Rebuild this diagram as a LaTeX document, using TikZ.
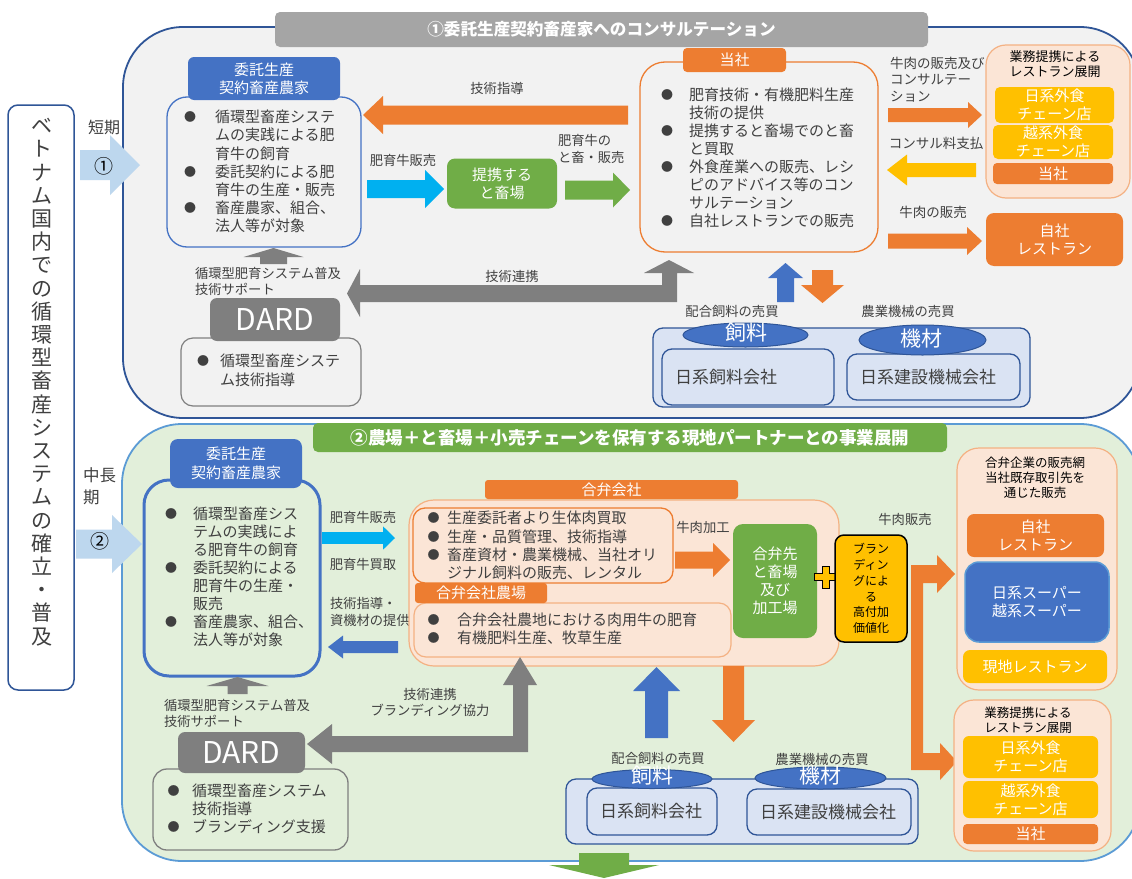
\documentclass[tikz,border=0pt]{standalone}
\usepackage{fontspec}
\setmainfont{Noto Sans CJK JP}
\usetikzlibrary{shapes.geometric}
\definecolor{cdblue}{HTML}{2F5597}
\definecolor{cblue}{HTML}{4472C4}
\definecolor{cbluelt}{HTML}{5B9BD5}
\definecolor{clblue}{HTML}{BDD7EE}
\definecolor{ccyan}{HTML}{00B0F0}
\definecolor{cgreen}{HTML}{70AD47}
\definecolor{corange}{HTML}{ED7D31}
\definecolor{clorange}{HTML}{FBE5D6}
\definecolor{corange2}{HTML}{F4B183}
\definecolor{cyellow}{HTML}{FFC000}
\definecolor{cgray}{HTML}{7F7F7F}
\definecolor{ctitle}{HTML}{A5A5A5}
\definecolor{cbg}{HTML}{F2F2F2}
\definecolor{cgbg}{HTML}{E2EFDA}
\definecolor{csup}{HTML}{DAE3F3}
\definecolor{ctxt}{HTML}{404040}
\newcommand{\fs}[2]{\fontsize{#1}{#2}\selectfont}
\newcommand{\fr}{\rule{0pt}{0.95em}}
\newcommand{\bu}[1]{\makebox[#1][l]{\raisebox{1pt}{\fontsize{12}{12}\selectfont ●}}}
\newcommand{\ind}[1]{\hspace*{#1}}
% color, tail, tip, center, shaft half width, head half width, head length
\newcommand{\rarrow}[7]{\fill[#1] (#2,#4-#5) -- (#3-#7,#4-#5) -- (#3-#7,#4-#6) -- (#3,#4) -- (#3-#7,#4+#6) -- (#3-#7,#4+#5) -- (#2,#4+#5) -- cycle;}
\newcommand{\larrow}[7]{\fill[#1] (#2,#4-#5) -- (#3+#7,#4-#5) -- (#3+#7,#4-#6) -- (#3,#4) -- (#3+#7,#4+#6) -- (#3+#7,#4+#5) -- (#2,#4+#5) -- cycle;}
\newcommand{\uarrow}[7]{\fill[#1] (#4-#5,#2) -- (#4-#5,#3+#7) -- (#4-#6,#3+#7) -- (#4,#3) -- (#4+#6,#3+#7) -- (#4+#5,#3+#7) -- (#4+#5,#2) -- cycle;}
\newcommand{\darrow}[7]{\fill[#1] (#4-#5,#2) -- (#4-#5,#3-#7) -- (#4-#6,#3-#7) -- (#4,#3) -- (#4+#6,#3-#7) -- (#4+#5,#3-#7) -- (#4+#5,#2) -- cycle;}
\begin{document}
\begin{tikzpicture}[x=1pt,y=-1pt,
  txt/.style={inner sep=0pt,outer sep=0pt,text=ctxt,align=left,anchor=north west},
  lbl/.style={inner sep=0pt,outer sep=0pt,text=ctxt,font=\fs{13.3}{16},align=center},
  wbox/.style={inner sep=0pt,outer sep=0pt,text=white,align=center,font=\fs{15}{18}},
  obox/.style={wbox,fill=corange,rounded corners=#1},
  ybox/.style={wbox,fill=cyellow,rounded corners=#1},
  panel/.style={draw=corange2,line width=1.2pt,fill=clorange,rounded corners=#1,inner sep=0pt},
  supbox/.style={draw=cdblue,line width=1.3pt,fill=csup,rounded corners=10pt,inner sep=0pt},
  ell/.style={ellipse,draw=cdblue,line width=1pt,fill=cblue,inner sep=0pt},
  dard/.style={fill=cgray,rounded corners=7pt,text=white,font=\fs{30}{32},inner sep=0pt},
  suptxt/.style={inner sep=0pt,text=ctxt,font=\fs{17}{20}},
  elltxt/.style={inner sep=0pt,text=white,font=\fs{21}{24}}
]
\useasboundingbox (0,0) rectangle (1132,878);
\fill[white] (0,0) rectangle (1132,878);

% ---------- containers ----------
\draw[cdblue,line width=1.8pt,fill=cbg,rounded corners=60pt] (123,27) rectangle (1140,418);
\draw[cbluelt,line width=1.8pt,fill=cgbg,rounded corners=60pt] (122,424) rectangle (1140,861);

% ---------- left vertical label ----------
\node[draw=cdblue,line width=1.5pt,fill=white,rounded corners=10pt,minimum width=66pt,minimum height=585pt,inner sep=0pt] (vbox) at (41,397.5) {};
\node[inner sep=0pt,text=ctxt,align=center,font=\fs{21}{23.2}] (vtext) at (42,382)
 {ベ\\ト\\ナ\\ム\\国\\内\\で\\の\\循\\環\\型\\畜\\産\\シ\\ス\\テ\\ム\\の\\確\\立\\・\\普\\及};

% ---------- phase arrows ----------
\rarrow{clblue}{80}{140}{165}{15}{30}{30}
\node[lbl,font=\fs{16}{20}] (tanki) at (104,127) {短期};
\node[lbl,text=black,font=\fs{19}{22}] (num1) at (104,166) {①};
\rarrow{clblue}{76}{142}{544}{14.5}{29}{30}
\node[txt,font=\fs{16.5}{22}] (chuki) at (83,465.6) {\fr 中長\\期};
\node[lbl,text=black,font=\fs{19}{22}] (num2) at (100,541) {②};

% ---------- titles ----------
\node[fill=ctitle,rounded corners=5pt,minimum width=653pt,minimum height=35pt,text=white,font=\bfseries\fs{16.6}{20},inner sep=0pt] (title1) at (601.5,29.5) {①委託生産契約畜産家へのコンサルテーション};
\node[fill=cgreen,rounded corners=5pt,minimum width=634pt,minimum height=29pt,text=white,font=\bfseries\fs{17.5}{20},inner sep=0pt] (title2) at (630,437.5) {②農場＋と畜場＋小売チェーンを保有する現地パートナーとの事業展開};

% ================= TOP SECTION =================
\node[draw=cblue,line width=1.3pt,fill=cbg,rounded corners=20pt,minimum width=194pt,minimum height=150pt,inner sep=0pt] (farm1) at (264,172) {};
\node[wbox,fill=cblue,rounded corners=6pt,minimum width=152pt,minimum height=43pt] (farmh1) at (264,78.5) {委託生産\\契約畜産農家};
\node[txt,font=\fs{15}{18.2}] (farmt1) at (184,108.5) {\fr\bu{31pt}循環型畜産システ\\\ind{31pt}ムの実践による肥\\\ind{31pt}育牛の飼育\\\bu{31pt}委託契約による肥\\\ind{31pt}育牛の生産・販売\\\bu{31pt}畜産農家、組合、\\\ind{31pt}法人等が対象};

% tech guidance arrow
\larrow{corange}{628}{363}{115}{9.5}{19}{20}
\node[lbl] (lguide) at (497,88) {技術指導};

% sale arrow + slaughterhouse
\rarrow{ccyan}{367}{444}{189}{9}{19}{19}
\node[lbl] (lsale1) at (403,160) {肥育牛販売};
\node[wbox,fill=cgreen,rounded corners=8pt,minimum width=110pt,minimum height=50pt] (tochiku) at (502,183.5) {提携する\\と畜場};
\rarrow{cgreen}{565}{630}{190}{9.5}{17.5}{17}
\node[txt,font=\fs{13.3}{17}] (lslaught) at (558,132.5) {\fr 肥育牛の\\と畜・販売};

% tosha box
\node[draw=corange,line width=1.3pt,fill=cbg,rounded corners=25pt,minimum width=238pt,minimum height=190pt,inner sep=0pt] (tosha1) at (759,157) {};
\node[obox=4pt,minimum width=103pt,minimum height=24pt] (toshah1) at (734.5,60) {当社};
\node[txt,font=\fs{15}{17.9}] (toshat1) at (661,86.5) {\fr\bu{28pt}肥育技術・有機肥料生産\\\ind{28pt}技術の提供\\\bu{28pt}提携すると畜場でのと畜\\\ind{28pt}と買取\\\bu{28pt}外食産業への販売、レシ\\\ind{28pt}ピのアドバイス等のコン\\\ind{28pt}サルテーション\\\bu{28pt}自社レストランでの販売};

% right side
\node[txt,font=\fs{13.5}{16.5}] (lconsult) at (890,55.3) {\fr 牛肉の販売及び\\コンサルテー\\ション};
\rarrow{corange}{888}{982}{115}{7}{13}{14}
\node[lbl,font=\fs{13.5}{16}] (lfee) at (936,143) {コンサル料支払};
\larrow{cyellow}{976}{887}{170}{7}{15.5}{20}

\node[panel=20pt,minimum width=144pt,minimum height=153pt] (rest1) at (1058,121.5) {};
\node[lbl,text=black,font=\fs{13}{15}] (rest1t) at (1055,64.5) {業務提携による\\レストラン展開};
\node[ybox=5pt,minimum width=119pt,minimum height=36pt] (jchain1) at (1054.5,105) {日系外食\\チェーン店};
\node[ybox=5pt,minimum width=120pt,minimum height=34pt] (vchain1) at (1053,142) {越系外食\\チェーン店};
\node[obox=4pt,minimum width=120pt,minimum height=21pt] (tosha1b) at (1053,173.5) {当社};

\node[lbl,font=\fs{13.5}{16}] (lbeef1) at (933,212) {牛肉の販売};
\rarrow{corange}{888}{982}{241}{7.5}{14}{15}
\node[obox=8pt,minimum width=137pt,minimum height=53pt] (ownrest1) at (1054.5,239.5) {自社\\レストラン};

% gray L arrow (tech cooperation)
\fill[cgray] (669,260) -- (694,273) -- (677,273) -- (677,302) -- (360,302) -- (360,317) -- (347,293.5) -- (360,269) -- (360,285) -- (662,285) -- (662,273) -- (644,273) -- cycle;
\node[lbl] (lcoop1) at (512,276) {技術連携};

% DARD top
\node[txt,font=\fs{13.3}{16}] (lsupport1) at (195,265.5) {\fr 循環型肥育システム普及\\技術サポート};
\uarrow{cgray}{264}{248}{273.5}{13.5}{30}{9}
\node[draw=cgray,line width=1.2pt,fill=cbg,rounded corners=12pt,minimum width=180pt,minimum height=68pt,inner sep=0pt] (dardd1) at (271,372) {};
\node[dard,minimum width=130pt,minimum height=43pt] (dard1) at (275,319.5) {DARD};
\node[txt,font=\fs{15}{19}] (dardt1) at (197,352.5) {\fr\bu{23pt}循環型畜産システ\\\ind{23pt}ム技術指導};

% feed / machinery top
\uarrow{cblue}{302}{263}{785.5}{8.5}{17.5}{15}
\darrow{corange}{270}{303}{822.5}{10.5}{21.5}{18}
\node[lbl] (lfeed1) at (732,311) {配合飼料の売買};
\node[lbl] (lmach1) at (908,311) {農業機械の売買};
\node[supbox,minimum width=377pt,minimum height=79pt] (sup1) at (841.5,367.5) {};
\node[supbox,minimum width=172pt,minimum height=56pt] (feedco1) at (748,377) {};
\node[suptxt] (feedco1t) at (726,377) {日系飼料会社};
\node[supbox,minimum width=173pt,minimum height=46pt] (machco1) at (933.5,377) {};
\node[suptxt] (machco1t) at (928,377) {日系建設機械会社};
\node[ell,minimum width=125pt,minimum height=24pt] (feedell1) at (745.5,335) {};
\node[elltxt] (feedell1t) at (746,333) {飼料};
\node[ell,minimum width=127pt,minimum height=30pt] (machell1) at (922.5,340) {};
\node[elltxt] (machell1t) at (921,339) {機材};

% ================= BOTTOM SECTION =================
\node[draw=cblue,line width=3pt,fill=cgbg,rounded corners=25pt,minimum width=176pt,minimum height=196pt,inner sep=0pt] (farm2) at (232,578) {};
\node[wbox,fill=cblue,rounded corners=8pt,minimum width=132pt,minimum height=49pt,font=\fs{15}{19}] (farmh2) at (236,463.5) {委託生産\\契約畜産農家};
\node[txt,font=\fs{15}{18}] (farmt2) at (165,505.5) {\fr\bu{28pt}循環型畜産シス\\\ind{28pt}テムの実践によ\\\ind{28pt}る肥育牛の飼育\\\bu{28pt}委託契約による\\\ind{28pt}肥育牛の生産・\\\ind{28pt}販売\\\bu{28pt}畜産農家、組合、\\\ind{28pt}法人等が対象};

\rarrow{ccyan}{322}{395}{538}{5.8}{11.7}{12}
\node[lbl] (lsale2) at (363,517) {肥育牛販売};
\node[lbl] (lbuy2) at (363,564) {肥育牛買取};
\node[txt,font=\fs{13.3}{17}] (lguide2) at (330,595.6) {\fr 技術指導・\\資機材の提供};
\larrow{cblue}{398}{328}{647}{6}{11.5}{15}

% joint venture
\node[panel=25pt,minimum width=430pt,minimum height=166pt] (jv) at (624,583) {};
\node[obox=3pt,minimum width=253pt,minimum height=19pt] (jvh) at (611.5,489.5) {合弁会社};
\node[draw=corange,line width=1.3pt,fill=clorange,rounded corners=12pt,minimum width=260pt,minimum height=75pt,inner sep=0pt] (jv1) at (543,545.5) {};
\node[txt,font=\fs{15}{18.3}] (jv1t) at (427.5,509.5) {\fr\bu{19.5pt}生産委託者より生体肉買取\\\bu{19.5pt}生産・品質管理、技術指導\\\bu{19.5pt}畜産資材・農業機械、当社オリ\\\ind{19.5pt}ジナル飼料の販売、レンタル};
\node[panel=12pt,minimum width=317pt,minimum height=54pt] (jv2) at (572.5,630) {};
\node[obox=3pt,minimum width=132pt,minimum height=20pt] (jv2h) at (481,593) {合弁会社農場};
\node[txt,font=\fs{15}{18}] (jv2t) at (427.5,611.5) {\fr\bu{29.5pt}合弁会社農地における肉用牛の肥育\\\bu{29.5pt}有機肥料生産、牧草生産};

\node[lbl] (lproc) at (703,527) {牛肉加工};
\rarrow{corange}{675}{730}{560}{8.5}{17}{17}
\node[wbox,fill=cgreen,rounded corners=10pt,minimum width=84pt,minimum height=114pt] (jvslaught) at (775,581) {合弁先\\と畜場\\及び\\加工場};

% plus sign
\draw[black,line width=0.9pt,fill=cyellow] (822.5,566) -- (829.5,566) -- (829.5,573.5) -- (838,573.5) -- (838,580.5) -- (829.5,580.5) -- (829.5,588) -- (822.5,588) -- (822.5,580.5) -- (814,580.5) -- (814,573.5) -- (822.5,573.5) -- cycle;
\node[draw=black,line width=1.5pt,fill=cyellow,rounded corners=9pt,minimum width=72pt,minimum height=107pt,inner sep=0pt,align=center,font=\fs{12}{15.8},text=black] (brand) at (871,588.5) {ブラン\\ディン\\グによ\\る\\高付加\\価値化};

\node[lbl] (lbeef2) at (905,519) {牛肉販売};
\fill[corange] (911,565) -- (937,565) -- (937,555) -- (955,574) -- (937,593) -- (937,583) -- (923,583) -- (923,753) -- (940,753) -- (940,743) -- (957,761.5) -- (940,780) -- (940,770) -- (911,770) -- cycle;

% right groups bottom
\node[panel=22pt,minimum width=160pt,minimum height=242pt] (sales2) at (1037,569) {};
\node[lbl,text=black,font=\fs{12.5}{15}] (sales2t) at (1035,478) {合弁企業の販売網\\当社既存取引先を\\通じた販売};
\node[obox=7pt,minimum width=137pt,minimum height=43pt] (ownrest2) at (1035.5,535.5) {自社\\レストラン};
\node[wbox,draw=cbluelt,line width=1.5pt,fill=cblue,rounded corners=14pt,minimum width=144pt,minimum height=80pt] (super2) at (1037,602) {日系スーパー\\越系スーパー};
\node[ybox=7pt,minimum width=144pt,minimum height=33pt] (local2) at (1035,666.5) {現地レストラン};

\node[panel=20pt,minimum width=157pt,minimum height=151pt] (rest2) at (1032.5,775.5) {};
\node[lbl,text=black,font=\fs{12.5}{15}] (rest2t) at (1028,720.5) {業務提携による\\レストラン展開};
\node[ybox=6pt,minimum width=135pt,minimum height=42pt] (jchain2) at (1030.5,757) {日系外食\\チェーン店};
\node[ybox=6pt,minimum width=135pt,minimum height=37pt] (vchain2) at (1030.5,799.5) {越系外食\\チェーン店};
\node[obox=4pt,minimum width=135pt,minimum height=20pt] (tosha2) at (1030.5,834) {当社};

% gray L arrow bottom
\fill[cgray] (520,657) -- (537,685) -- (528,685) -- (528,752) -- (332,752) -- (332,764) -- (307,744) -- (332,724) -- (332,736) -- (513,736) -- (513,685) -- (503,685) -- cycle;
\node[lbl,font=\fs{13.3}{15.5}] (lcoop2) at (430,702.5) {技術連携\\ブランディング協力};

% DARD bottom
\node[txt,font=\fs{13.3}{16}] (lsupport2) at (164,697.6) {\fr 循環型肥育システム普及\\技術サポート};
\uarrow{cgray}{694}{677}{237.5}{10}{31}{9}
\node[draw=cgray,line width=1.3pt,fill=cgbg,rounded corners=14pt,minimum width=195pt,minimum height=81pt,inner sep=0pt] (dardd2) at (250.5,809.5) {};
\node[dard,minimum width=127pt,minimum height=41pt] (dard2) at (241.5,752.5) {DARD};
\node[txt,font=\fs{15}{18}] (dardt2) at (167.5,782.5) {\fr\bu{24.5pt}循環型畜産システム\\\ind{24.5pt}技術指導\\\bu{24.5pt}ブランディング支援};

% feed / machinery bottom
\uarrow{cblue}{738}{667}{656.5}{11.5}{23.5}{24}
\darrow{corange}{666}{742}{733.5}{10.5}{21.5}{22}
\node[lbl] (lfeed2) at (658,758) {配合飼料の売買};
\node[lbl] (lmach2) at (822,759) {農業機械の売買};
\node[supbox,minimum width=352pt,minimum height=65pt] (sup2) at (742,811.5) {};
\node[supbox,minimum width=130pt,minimum height=47pt] (feedco2) at (652,811.5) {};
\node[suptxt] (feedco2t) at (651,811) {日系飼料会社};
\node[supbox,minimum width=164pt,minimum height=46pt] (machco2) at (829,812) {};
\node[suptxt] (machco2t) at (828,812) {日系建設機械会社};
\node[ell,minimum width=120pt,minimum height=19pt] (feedell2) at (652,779) {};
\node[elltxt] (feedell2t) at (652,776) {飼料};
\node[ell,minimum width=131pt,minimum height=22pt] (machell2) at (820.5,778) {};
\node[elltxt] (machell2t) at (820,776) {機材};

% bottom green arrow
\darrow{cgreen}{853}{878}{604}{25}{55}{13}
\end{tikzpicture}
\end{document}
